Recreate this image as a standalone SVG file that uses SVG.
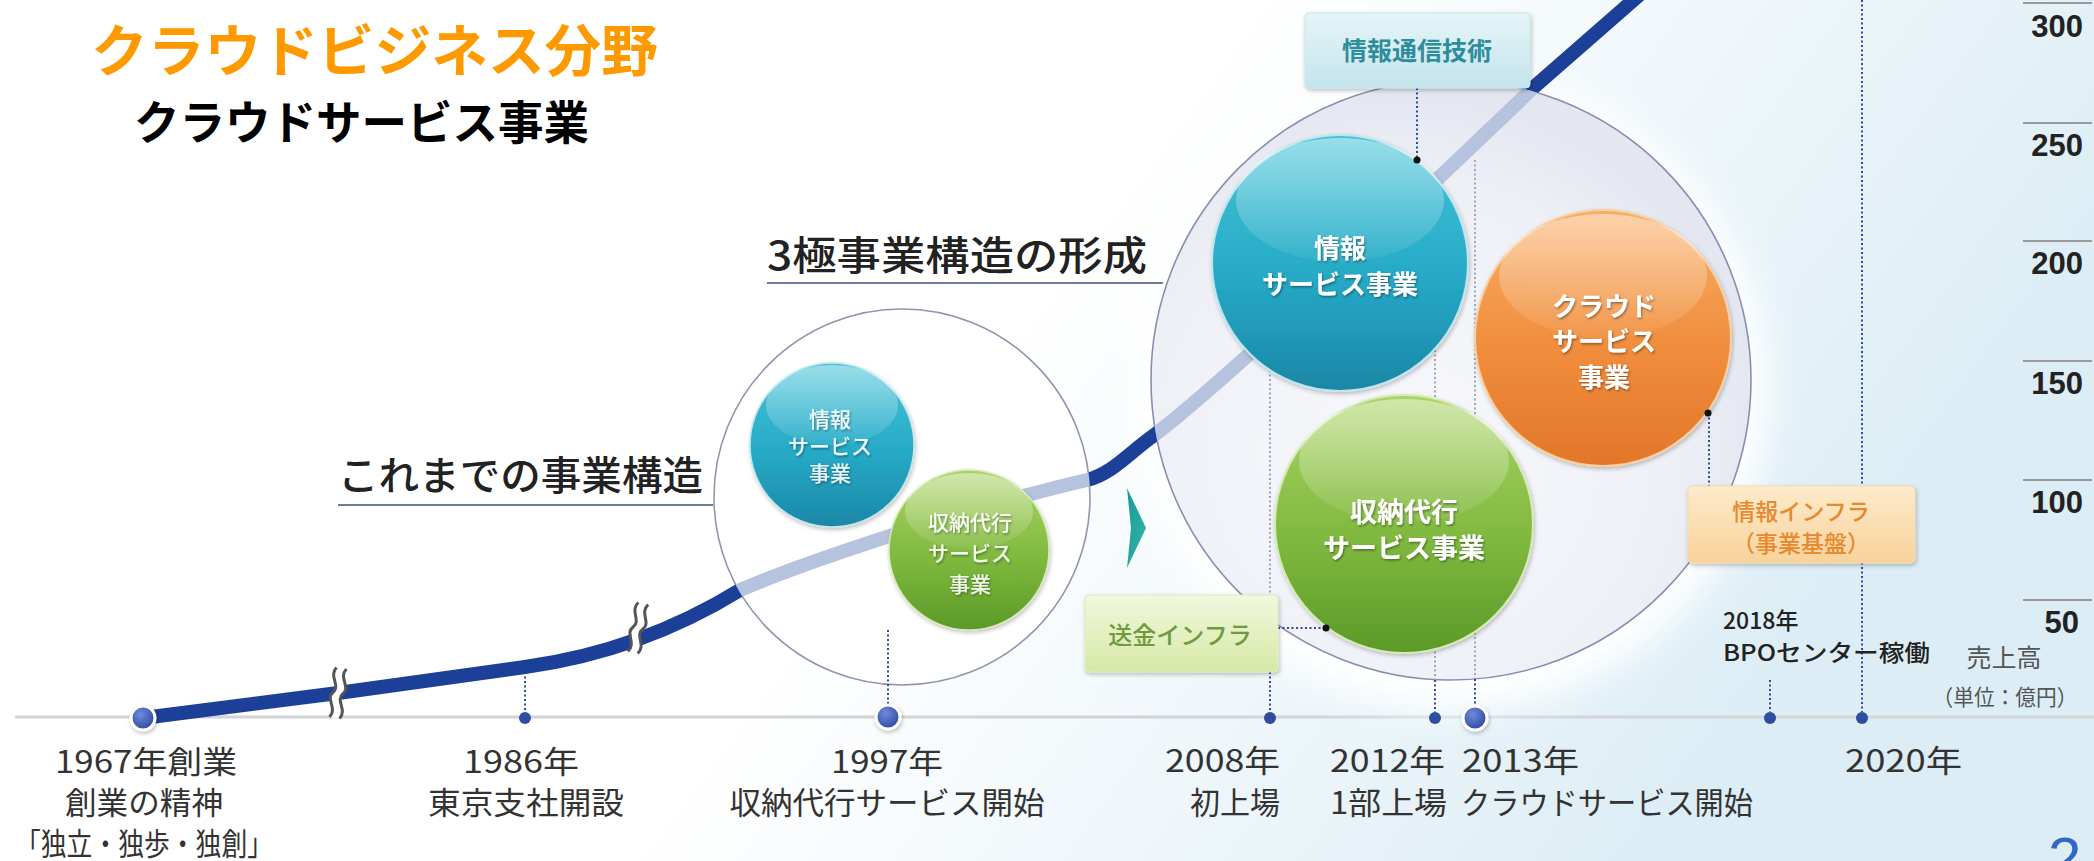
<svg xmlns="http://www.w3.org/2000/svg" width="2094" height="861" viewBox="0 0 2094 861">
<defs>
<style>
.jp{font-family:"Noto Sans CJK JP","Noto Sans CJK SC",sans-serif}
.lbl{font-size:31px;fill:#333}
.num{font-family:"Liberation Sans",Arial,sans-serif;font-weight:bold;font-size:31px;fill:#222;text-anchor:end}
.btxt{fill:#fff;font-weight:bold;text-anchor:middle;filter:url(#ts)}
.stxt{fill:#fff;font-size:21px;font-weight:500;text-anchor:middle;opacity:.9;filter:url(#ts)}
.dl{stroke:#2d4a9c;stroke-width:2;stroke-dasharray:2 2.5;fill:none}
.dll{stroke:#9ea6c4;stroke-width:2;stroke-dasharray:2 2.5;fill:none}
.tick{stroke:#9a9a9a;stroke-width:2}
.brk{fill:none;stroke:#555;stroke-width:3}
.sdot{fill:#2f4da0}
.bdot{fill:url(#gDot);stroke:#fff;stroke-width:3;filter:url(#sh)}
.pin{fill:#111}
</style>
<linearGradient id="gBg" x1="0" y1="0" x2="1" y2="0.3">
<stop offset="0" stop-color="#fff"/><stop offset="0.55" stop-color="#fff"/><stop offset="0.78" stop-color="#eef6fa"/><stop offset="1" stop-color="#dcedf5"/>
</linearGradient>
<radialGradient id="gBig" cx="0.42" cy="0.62" r="0.6">
<stop offset="0" stop-color="#f9f9fc"/><stop offset="0.75" stop-color="#eef0f6"/><stop offset="1" stop-color="#e4e7f0"/>
</radialGradient>
<radialGradient id="gDot" cx="0.4" cy="0.35" r="0.7">
<stop offset="0" stop-color="#6f8ad8"/><stop offset="1" stop-color="#2a46a0"/>
</radialGradient>
<linearGradient id="gCy" x1="0" y1="0" x2="0" y2="1">
<stop offset="0" stop-color="#45c3d8"/><stop offset="0.55" stop-color="#26aac6"/><stop offset="1" stop-color="#1a86a6"/>
</linearGradient>
<linearGradient id="gOr" x1="0" y1="0" x2="0" y2="1">
<stop offset="0" stop-color="#f9ad66"/><stop offset="0.55" stop-color="#f08d3c"/><stop offset="1" stop-color="#e2762a"/>
</linearGradient>
<linearGradient id="gGr" x1="0" y1="0" x2="0" y2="1">
<stop offset="0" stop-color="#abd466"/><stop offset="0.55" stop-color="#80b93f"/><stop offset="1" stop-color="#5b9a28"/>
</linearGradient>
<linearGradient id="gHi" x1="0" y1="0" x2="0" y2="1">
<stop offset="0" stop-color="#fff" stop-opacity="0.45"/><stop offset="1" stop-color="#fff" stop-opacity="0.05"/>
</linearGradient>
<linearGradient id="gBoxC" x1="0" y1="0" x2="0" y2="1">
<stop offset="0" stop-color="#e6f5f8"/><stop offset="1" stop-color="#c3e4ec"/>
</linearGradient>
<linearGradient id="gBoxO" x1="0" y1="0" x2="0" y2="1">
<stop offset="0" stop-color="#fdebcb"/><stop offset="1" stop-color="#f8d29a"/>
</linearGradient>
<linearGradient id="gBoxG" x1="0" y1="0" x2="0" y2="1">
<stop offset="0" stop-color="#f2f7de"/><stop offset="1" stop-color="#d6e9a6"/>
</linearGradient>
<linearGradient id="gTri" x1="0" y1="0" x2="1" y2="1">
<stop offset="0" stop-color="#1a9a98"/><stop offset="1" stop-color="#35b5a8"/>
</linearGradient>
<filter id="ts" x="-10%" y="-10%" width="120%" height="130%">
<feDropShadow dx="1" dy="1.5" stdDeviation="1" flood-color="#000" flood-opacity="0.4"/>
</filter>
<filter id="sh" x="-20%" y="-20%" width="140%" height="150%">
<feDropShadow dx="1" dy="2" stdDeviation="2" flood-color="#000" flood-opacity="0.25"/>
</filter>
<filter id="glow" x="-20%" y="-20%" width="140%" height="140%">
<feGaussianBlur stdDeviation="18"/>
</filter>
<clipPath id="inC">
<circle cx="902" cy="497" r="188"/>
<circle cx="1451" cy="380" r="300"/>
</clipPath>
<mask id="outC">
<rect x="0" y="0" width="2094" height="861" fill="#fff"/>
<circle cx="902" cy="497" r="188" fill="#000"/>
<circle cx="1451" cy="380" r="300" fill="#000"/>
</mask>
<path id="curve" d="M143,718 L338,693 L525,667 Q641,651 740,590 C820,556 980,505 1087,480 C1112,474 1130,452 1153,436 C1230,378 1440,177 1533,88 L1645,-10"/>
</defs>

<rect x="0" y="0" width="2094" height="861" fill="url(#gBg)"/>

<g id="titles" class="jp">
<text x="91" y="71" font-size="56" font-weight="bold" fill="#ff9900" textLength="567" lengthAdjust="spacingAndGlyphs">クラウドビジネス分野</text>
<text x="134" y="139" font-size="46" font-weight="bold" fill="#000" textLength="455" lengthAdjust="spacingAndGlyphs">クラウドサービス事業</text>
</g>

<g id="axis">
<line x1="15" y1="717" x2="2094" y2="717" stroke="#d2d4d8" stroke-width="3"/>
</g>

<g id="scale">
<line class="tick" x1="2023" y1="3" x2="2092" y2="3"/>
<line class="tick" x1="2023" y1="123" x2="2092" y2="123"/>
<line class="tick" x1="2023" y1="241" x2="2092" y2="241"/>
<line class="tick" x1="2023" y1="361" x2="2092" y2="361"/>
<line class="tick" x1="2023" y1="480" x2="2092" y2="480"/>
<line class="tick" x1="2023" y1="600" x2="2092" y2="600"/>
<text class="num" x="2083" y="37">300</text>
<text class="num" x="2083" y="156">250</text>
<text class="num" x="2083" y="274">200</text>
<text class="num" x="2083" y="394">150</text>
<text class="num" x="2083" y="513">100</text>
<text class="num" x="2079" y="633">50</text>
<text class="jp" x="2004" y="667" font-size="25" fill="#555" text-anchor="middle">売上高</text>
<text class="jp" x="2005" y="705" font-size="22" fill="#555" text-anchor="middle" textLength="145" lengthAdjust="spacingAndGlyphs">（単位：億円）</text>
</g>

<g id="big-structure">
<circle cx="1451" cy="392" r="318" fill="#fff" filter="url(#glow)"/>
<circle cx="1451" cy="380" r="300" fill="url(#gBig)" stroke="#8590b0" stroke-width="1.6"/>
</g>

<g id="old-structure">
<circle cx="902" cy="497" r="188" fill="#fff" stroke="#8f95ad" stroke-width="1.6"/>
</g>

<g id="headings" class="jp">
<text x="767" y="270" font-size="40" font-weight="500" fill="#222" textLength="380" lengthAdjust="spacingAndGlyphs">3極事業構造の形成</text>
<line x1="767" y1="283" x2="1163" y2="283" stroke="#6d7a99" stroke-width="2"/>
<text x="338" y="490" font-size="40" font-weight="500" fill="#222" textLength="365" lengthAdjust="spacingAndGlyphs">これまでの事業構造</text>
<line x1="338" y1="505" x2="713" y2="505" stroke="#6d7a99" stroke-width="2"/>
</g>

<g id="connectors">
<line class="dll" x1="1270" y1="370" x2="1270" y2="595"/>
<line class="dll" x1="1435" y1="350" x2="1435" y2="680"/>
<line class="dll" x1="1475" y1="160" x2="1475" y2="679"/>
<line class="dl" x1="1270" y1="672" x2="1270" y2="712"/>
<line class="dl" x1="1435" y1="680" x2="1435" y2="712"/>
<line class="dl" x1="1475" y1="679" x2="1475" y2="712"/>
<line class="dl" x1="1862" y1="0" x2="1862" y2="712"/>
<line class="dl" x1="1770" y1="680" x2="1770" y2="712"/>
<line class="dl" x1="525" y1="672" x2="525" y2="712"/>
<line class="dl" x1="888" y1="630" x2="888" y2="708"/>
<use href="#curve" fill="none" stroke="#1c3f98" stroke-width="14" mask="url(#outC)"/>
<use href="#curve" fill="none" stroke="#b5c3de" stroke-width="14" clip-path="url(#inC)"/>
<g transform="translate(338,693) rotate(8)">
<path d="M-5,-25 C-12,-15 2,-8 -5,0 C-12,8 2,15 -5,25 L5,25 C12,15 -2,8 5,0 C12,-8 -2,-15 5,-25 Z" fill="#fff"/>
<path class="brk" d="M-5,-25 C-12,-15 2,-8 -5,0 C-12,8 2,15 -5,25"/>
<path class="brk" d="M5,-25 C-2,-15 12,-8 5,0 C-2,8 12,15 5,25"/>
</g>
<g transform="translate(638,628) rotate(12)">
<path d="M-5,-25 C-12,-15 2,-8 -5,0 C-12,8 2,15 -5,25 L5,25 C12,15 -2,8 5,0 C12,-8 -2,-15 5,-25 Z" fill="#fff"/>
<path class="brk" d="M-5,-25 C-12,-15 2,-8 -5,0 C-12,8 2,15 -5,25"/>
<path class="brk" d="M5,-25 C-2,-15 12,-8 5,0 C-2,8 12,15 5,25"/>
</g>
<polygon points="1127,488 1146,528 1127,568 1131,528" fill="url(#gTri)"/>
</g>

<g id="node-small-info">
<circle cx="832" cy="445" r="82" fill="url(#gCy)" stroke="#bfe6ee" stroke-width="1.5" filter="url(#sh)"/>
<ellipse cx="832" cy="405" rx="66" ry="40" fill="url(#gHi)"/>
<text class="jp stxt" x="830" y="427">情報</text>
<text class="jp stxt" x="830" y="454">サービス</text>
<text class="jp stxt" x="830" y="481">事業</text>
</g>

<g id="node-small-pay">
<circle cx="969" cy="550" r="80" fill="url(#gGr)" stroke="#d6eab5" stroke-width="1.5" filter="url(#sh)"/>
<ellipse cx="969" cy="511" rx="64" ry="38" fill="url(#gHi)"/>
<text class="jp stxt" x="970" y="530">収納代行</text>
<text class="jp stxt" x="970" y="561">サービス</text>
<text class="jp stxt" x="970" y="592">事業</text>
</g>

<g id="node-info">
<circle cx="1340" cy="263" r="128" fill="url(#gCy)" stroke="#bfe6ee" stroke-width="2" filter="url(#sh)"/>
<ellipse cx="1340" cy="200" rx="104" ry="62" fill="url(#gHi)"/>
<text class="jp btxt" x="1340" y="258" font-size="26">情報</text>
<text class="jp btxt" x="1340" y="294" font-size="26">サービス事業</text>
</g>

<g id="node-cloud">
<circle cx="1603" cy="338" r="128" fill="url(#gOr)" stroke="#f8cf9e" stroke-width="2" filter="url(#sh)"/>
<ellipse cx="1603" cy="276" rx="104" ry="62" fill="url(#gHi)"/>
<text class="jp btxt" x="1604" y="316" font-size="26">クラウド</text>
<text class="jp btxt" x="1604" y="351" font-size="26">サービス</text>
<text class="jp btxt" x="1604" y="387" font-size="26">事業</text>
</g>

<g id="node-pay">
<circle cx="1404" cy="524" r="129" fill="url(#gGr)" stroke="#d6eab5" stroke-width="2" filter="url(#sh)"/>
<ellipse cx="1404" cy="461" rx="105" ry="62" fill="url(#gHi)"/>
<text class="jp btxt" x="1404" y="522" font-size="27">収納代行</text>
<text class="jp btxt" x="1404" y="558" font-size="27">サービス事業</text>
</g>

<g id="box-ict">
<line class="dl" x1="1417" y1="88" x2="1417" y2="160" stroke="#555"/>
<circle class="pin" cx="1417" cy="160" r="3.5"/>
<rect x="1305" y="13" width="225" height="75" rx="4" fill="url(#gBoxC)" stroke="#c7e5eb" filter="url(#sh)"/>
<text class="jp" x="1417" y="60" font-size="25" font-weight="bold" fill="#2d8d9c" text-anchor="middle">情報通信技術</text>
</g>

<g id="box-infra">
<line class="dl" x1="1709" y1="413" x2="1709" y2="486"/>
<circle class="pin" cx="1708" cy="413" r="3.5"/>
<rect x="1688" y="486" width="227" height="77" rx="4" fill="url(#gBoxO)" stroke="#f6d9ae" filter="url(#sh)"/>
<text class="jp" x="1801" y="520" font-size="23" font-weight="500" fill="#e6892e" text-anchor="middle">情報インフラ</text>
<text class="jp" x="1801" y="552" font-size="23" font-weight="500" fill="#e6892e" text-anchor="middle">（事業基盤）</text>
</g>

<g id="box-remit">
<line class="dl" x1="1278" y1="628" x2="1325" y2="628"/>
<circle class="pin" cx="1326" cy="628" r="3.5"/>
<rect x="1085" y="595" width="193" height="77" rx="4" fill="url(#gBoxG)" stroke="#dfecbd" filter="url(#sh)"/>
<text class="jp" x="1180" y="644" font-size="24" font-weight="500" fill="#6f9a3e" text-anchor="middle">送金インフラ</text>
</g>

<g id="dots">
<circle class="bdot" cx="143" cy="718" r="12"/>
<circle class="sdot" cx="525" cy="718" r="6"/>
<circle class="bdot" cx="888" cy="717" r="12"/>
<circle class="sdot" cx="1270" cy="718" r="6"/>
<circle class="sdot" cx="1435" cy="718" r="6"/>
<circle class="bdot" cx="1475" cy="718" r="12"/>
<circle class="sdot" cx="1770" cy="718" r="6"/>
<circle class="sdot" cx="1862" cy="718" r="6"/>
</g>

<g id="timeline-labels" class="jp lbl">
<text x="146" y="773" text-anchor="middle" textLength="182" lengthAdjust="spacingAndGlyphs">1967年創業</text>
<text x="144" y="814" text-anchor="middle" textLength="158" lengthAdjust="spacingAndGlyphs">創業の精神</text>
<text x="144" y="855" text-anchor="middle" textLength="258" lengthAdjust="spacingAndGlyphs">「独立・独歩・独創」</text>
<text x="521" y="773" text-anchor="middle" textLength="116" lengthAdjust="spacingAndGlyphs">1986年</text>
<text x="526" y="814" text-anchor="middle" textLength="196" lengthAdjust="spacingAndGlyphs">東京支社開設</text>
<text x="887" y="773" text-anchor="middle" textLength="112" lengthAdjust="spacingAndGlyphs">1997年</text>
<text x="887" y="814" text-anchor="middle" textLength="315" lengthAdjust="spacingAndGlyphs">収納代行サービス開始</text>
<text x="1280" y="772" text-anchor="end" textLength="115" lengthAdjust="spacingAndGlyphs">2008年</text>
<text x="1280" y="814" text-anchor="end" textLength="90" lengthAdjust="spacingAndGlyphs">初上場</text>
<text x="1445" y="772" text-anchor="end" textLength="115" lengthAdjust="spacingAndGlyphs">2012年</text>
<text x="1447" y="814" text-anchor="end" textLength="117" lengthAdjust="spacingAndGlyphs">1部上場</text>
<text x="1462" y="772" textLength="117" lengthAdjust="spacingAndGlyphs">2013年</text>
<text x="1461" y="814" textLength="292" lengthAdjust="spacingAndGlyphs">クラウドサービス開始</text>
<text x="1845" y="772" textLength="117" lengthAdjust="spacingAndGlyphs">2020年</text>
</g>

<g id="label-2018" class="jp">
<text x="1723" y="629" font-size="23" font-weight="500" fill="#222">2018年</text>
<text x="1723" y="661" font-size="23" font-weight="500" fill="#222" textLength="207" lengthAdjust="spacingAndGlyphs">BPOセンター稼働</text>
</g>

<text id="page-number" x="2048" y="879" font-family="Liberation Sans, Arial, sans-serif" font-size="60" fill="#3366cc">2</text>
</svg>
